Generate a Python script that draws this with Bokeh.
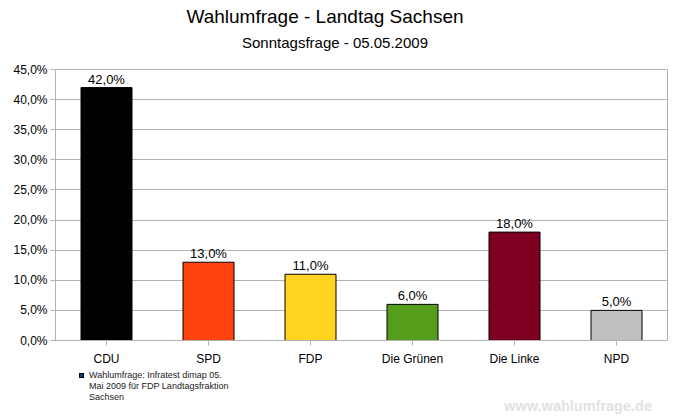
from bokeh.plotting import figure
from bokeh.models import ColumnDataSource, Div, FixedTicker, CustomJSTickFormatter, Range1d
from bokeh.layouts import column
from bokeh.core.properties import value
from bokeh.embed import file_html
from bokeh.resources import INLINE

parties = ["CDU", "SPD", "FDP", "Die Grünen", "Die Linke", "NPD"]
shares = [42.0, 13.0, 11.0, 6.0, 18.0, 5.0]
colors = ["#000000", "#ff420e", "#ffd320", "#579d1c", "#7e0021", "#c0c0c0"]
y_ticks = [0, 5, 10, 15, 20, 25, 30, 35, 40, 45]

title = "Wahlumfrage - Landtag Sachsen"
subtitle = "Sonntagsfrage - 05.05.2009"
source_note = ["Wahlumfrage: Infratest dimap 05.", "Mai 2009 für FDP Landtagsfraktion", "Sachsen"]
watermark = "www.wahlumfrage.de"

FONT = "Liberation Sans"
GRID = "#b3b3b3"

labels = [("%.1f%%" % v).replace(".", ",") for v in shares]
source = ColumnDataSource(data=dict(party=parties, share=shares, color=colors, label=labels))

# --- header -------------------------------------------------------------
top = Div(width=680, height=59, margin=0, text=f"""
<div style="position:relative;width:680px;height:59px;font-family:'{FONT}';color:black;">
  <div style="position:absolute;left:125px;top:7px;width:400px;text-align:center;
              font-size:19px;line-height:19px;white-space:nowrap;">{title}</div>
  <div style="position:absolute;left:135px;top:35px;width:400px;text-align:center;
              font-size:15px;line-height:15px;white-space:nowrap;">{subtitle}</div>
</div>""")

# --- chart --------------------------------------------------------------
p = figure(x_range=parties, width=680, height=309, output_backend="svg",
           toolbar_location=None, tools="",
           min_border_left=55, min_border_right=13, min_border_top=10, min_border_bottom=27)
p.margin = 0
p.y_range = Range1d(0, 45)
p.background_fill_color = "white"
p.border_fill_color = "white"
p.outline_line_color = GRID

p.vbar(x="party", top="share", width=0.5, fill_color="color", line_color="black",
       line_width=1, source=source)
p.text(x="party", y="share", text="label", source=source, text_align="center",
       text_baseline="bottom", y_offset=-1, text_font=value(FONT),
       text_font_size="13px", text_color="black")

p.yaxis.ticker = FixedTicker(ticks=y_ticks)
p.yaxis.formatter = CustomJSTickFormatter(code="return tick.toFixed(1).replace('.', ',') + '%';")
for ax in (p.xaxis, p.yaxis):
    ax.axis_line_color = GRID
    ax.major_tick_line_color = GRID
    ax.major_tick_out = 5
    ax.major_tick_in = 0
    ax.minor_tick_line_color = None
    ax.major_label_text_font = FONT
    ax.major_label_text_font_size = "12px"
    ax.major_label_text_color = "black"
p.yaxis.major_label_standoff = 3
p.xaxis.major_label_standoff = 6
p.xgrid.grid_line_color = None
p.ygrid.grid_line_color = GRID
p.ygrid.ticker = FixedTicker(ticks=y_ticks)

# --- footer: source legend + watermark -----------------------------------
note_html = "<br>".join(source_note)
bottom = Div(width=680, height=52, margin=0, text=f"""
<div style="position:relative;width:680px;height:52px;font-family:'{FONT}';">
  <div style="position:absolute;left:79px;top:5px;width:5px;height:5px;
              background:#004586;border:1px solid black;"></div>
  <div style="position:absolute;left:89px;top:2px;font-size:9px;line-height:10.8px;
              color:#1a1a1a;white-space:nowrap;">{note_html}</div>
  <div style="position:absolute;right:28px;top:31px;font-size:14.5px;line-height:14.5px;
              font-weight:bold;color:#e2e2e2;white-space:nowrap;">{watermark}</div>
</div>""")

layout = column(top, p, bottom, spacing=0)
open("out.html", "w").write(file_html(layout, INLINE))
